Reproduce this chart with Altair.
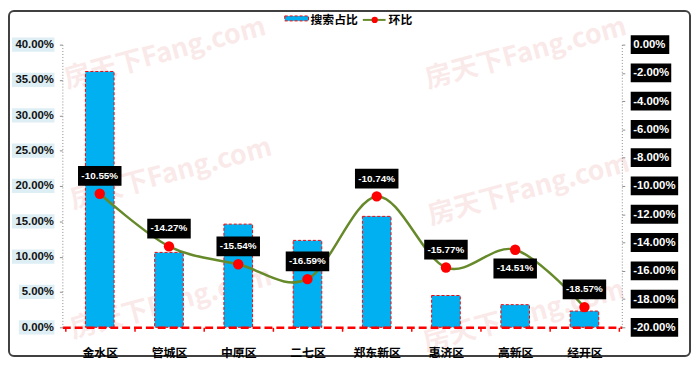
import altair as alt
import pandas as pd

# ---------------- data ----------------
categories = ["金水区", "管城区", "中原区", "二七区", "郑东新区", "惠济区", "高新区", "经开区"]
share = [0.362, 0.106, 0.146, 0.123, 0.157, 0.045, 0.032, 0.023]          # 搜索占比
mom = [-0.1055, -0.1427, -0.1554, -0.1659, -0.1074, -0.1577, -0.1451, -0.1857]  # 环比
label_side = ["above", "above", "above", "above", "above", "above", "below", "above"]
left_ticks = [0.0, 0.05, 0.10, 0.15, 0.20, 0.25, 0.30, 0.35, 0.40]
right_ticks = [0.0, -0.02, -0.04, -0.06, -0.08, -0.10, -0.12, -0.14, -0.16, -0.18, -0.20]
series_names = ["搜索占比", "环比"]
watermark_text = "房天下Fang.com"


def pct(v):
    return f"{v * 100:.2f}%"


df = pd.DataFrame({"cat": categories, "share": share, "mom": mom, "side": label_side})
df["label"] = [pct(v) for v in mom]

FONT_NUM = "Liberation Sans"
FONT_CJK = "Noto Sans CJK SC"
BLUE = "#00B0F0"
RED = "#FF0000"
OLIVE = "#66892A"
TOP = 35  # plot top offset inside chart


def box(x0, x1, h):
    return f"M{x0},{-h}L{x1},{-h}L{x1},{h}L{x0},{h}Z"


# ---------------- scales & axes ----------------
x_enc = alt.X(
    "cat:N", sort=categories, title=None,
    scale=alt.Scale(paddingInner=0, paddingOuter=0.04),
    axis=alt.Axis(
        labelAngle=0, labelFont=FONT_CJK, labelFontSize=12, labelFontWeight="bold",
        labelColor="#000000", labelPadding=17,
        domainColor=RED, domainWidth=2.5, domainDash=[8, 4],
        tickColor=RED, tickSize=4, tickWidth=1.5, tickBand="extent", zindex=1,
    ),
)

yL_scale = alt.Scale(domain=[0, 0.4], nice=False, zero=True)
left_axis = alt.Axis(
    values=left_ticks, format=".2%", orient="left", title=None, grid=False,
    domainColor="#8c8c8c", domainDash=[1, 2], domainWidth=1,
    tickColor="#8c8c8c", tickSize=3,
    labelFont=FONT_NUM, labelFontSize=11.5, labelFontWeight="bold",
    labelColor="#111111", labelPadding=6, zindex=1,
)

yR_scale = alt.Scale(domain=[-0.2, 0], nice=False, zero=False)
right_axis = alt.Axis(
    values=right_ticks, orient="right", title=None, grid=False,
    labelExpr="replace(format(datum.value, '.2%'), '\u2212', '-')",
    domainColor="#8c8c8c", domainDash=[1, 2], domainWidth=1,
    tickColor="#8c8c8c", tickSize=3,
    labelFont=FONT_NUM, labelFontSize=11.5, labelFontWeight="bold",
    labelColor="#FFFFFF", labelPadding=8, zindex=1,
)

# ---------------- left (bar) group ----------------
bars = alt.Chart(df).mark_bar(
    size=29, color=BLUE, stroke=RED, strokeDash=[3, 2], strokeWidth=1
).encode(
    x=x_enc,
    y=alt.Y("share:Q", scale=yL_scale, axis=left_axis),
)

left_bg_df = pd.DataFrame({"v": left_ticks})
left_bg_df["shape"] = [box(-3.6 if len(pct(v)) <= 5 else -4.3, 0, 0.72) for v in left_ticks]
left_bg = alt.Chart(left_bg_df).mark_point(
    filled=True, opacity=1, strokeWidth=0, size=400, color="#DDEEF4"
).encode(
    x=alt.value(-8),
    y=alt.Y("v:Q", scale=yL_scale, axis=left_axis),
    shape=alt.Shape("shape:N", scale=None),
)

one = pd.DataFrame({"k": [0]})

watermarks = []
for (px, py) in [(167, 52), (532, 52), (173, 174), (535, 190), (173, 305), (530, 318)]:
    watermarks.append(
        alt.Chart(one).mark_text(
            text=watermark_text, angle=345, fontSize=27, fontWeight="bold",
            font=FONT_CJK, color="#E05A5A", opacity=0.13, align="center", baseline="middle",
        ).encode(x=alt.value(px - 63), y=alt.value(py - 8 - TOP))
    )

frame = alt.Chart(one).mark_rect(
    fillOpacity=0, stroke="#404040", strokeWidth=2, cornerRadius=5
).encode(x=alt.value(-54), x2=alt.value(635), y=alt.value(1 - TOP), y2=alt.value(315))

leg_y = 18 - 8 - TOP
leg_rect = alt.Chart(one).mark_rect(
    color=BLUE, stroke=RED, strokeDash=[3, 2], strokeWidth=1
).encode(x=alt.value(225), x2=alt.value(249), y=alt.value(leg_y - 4), y2=alt.value(leg_y + 1))
leg_text1 = alt.Chart(one).mark_text(
    text=series_names[0], align="left", baseline="middle", font=FONT_CJK,
    fontSize=12, fontWeight="bold", color="#000000",
).encode(x=alt.value(251), y=alt.value(leg_y))
leg_line = alt.Chart(one).mark_rule(color=OLIVE, strokeWidth=2).encode(
    x=alt.value(304), x2=alt.value(327), y=alt.value(leg_y)
)
leg_dot = alt.Chart(one).mark_point(filled=True, color=RED, opacity=1, size=40).encode(
    x=alt.value(316), y=alt.value(leg_y)
)
leg_text2 = alt.Chart(one).mark_text(
    text=series_names[1], align="left", baseline="middle", font=FONT_CJK,
    fontSize=12, fontWeight="bold", color="#000000",
).encode(x=alt.value(330), y=alt.value(leg_y))

left_group = alt.layer(
    *watermarks, left_bg, bars, frame, leg_rect, leg_text1, leg_line, leg_dot, leg_text2
)

# ---------------- right (line) group ----------------
yR = alt.Y("mom:Q", scale=yR_scale, axis=right_axis)

right_bg_df = pd.DataFrame({"v": right_ticks})
_w = {5: 3.9, 6: 4.1, 7: 4.8}
right_bg_df["shape"] = [box(0, _w[len(pct(v))], 0.95) for v in right_ticks]
right_bg = alt.Chart(right_bg_df).mark_point(
    filled=True, opacity=1, strokeWidth=0, size=400, color="#000000"
).encode(
    x=alt.value(575),
    y=alt.Y("v:Q", scale=yR_scale, axis=right_axis),
    shape=alt.Shape("shape:N", scale=None),
)

line = alt.Chart(df).mark_line(interpolate="cardinal", color=OLIVE, strokeWidth=2.5).encode(
    x=x_enc, y=yR
)
points = alt.Chart(df).mark_point(filled=True, color=RED, opacity=1, size=110).encode(
    x=x_enc, y=yR
)

LABEL_BOX = box(-2.2, 2.2, 1.0)


def label_layers(side, off):
    base = alt.Chart(df).transform_filter(alt.datum.side == side)
    b = base.mark_point(
        shape=LABEL_BOX, size=400, filled=True, color="#000000", opacity=1,
        strokeWidth=0, yOffset=off,
    ).encode(x=x_enc, y=yR)
    t = base.mark_text(
        font=FONT_NUM, fontSize=10, fontWeight="bold", color="#FFFFFF",
        align="center", baseline="middle", dy=off,
    ).encode(x=x_enc, y=yR, text="label:N")
    return [b, t]


right_group = alt.layer(
    right_bg, line, points, *label_layers("above", -18), *label_layers("below", 19)
)

chart = alt.layer(left_group, right_group).resolve_scale(y="independent").properties(
    width=566, height=286,
    padding={"left": 55, "top": TOP, "right": 71, "bottom": 30},
    autosize=alt.AutoSizeParams(type="none"),
    background="#FFFFFF",
).configure_view(strokeWidth=0)

chart.save("out.html", embed_options={"renderer": "svg", "actions": False})
